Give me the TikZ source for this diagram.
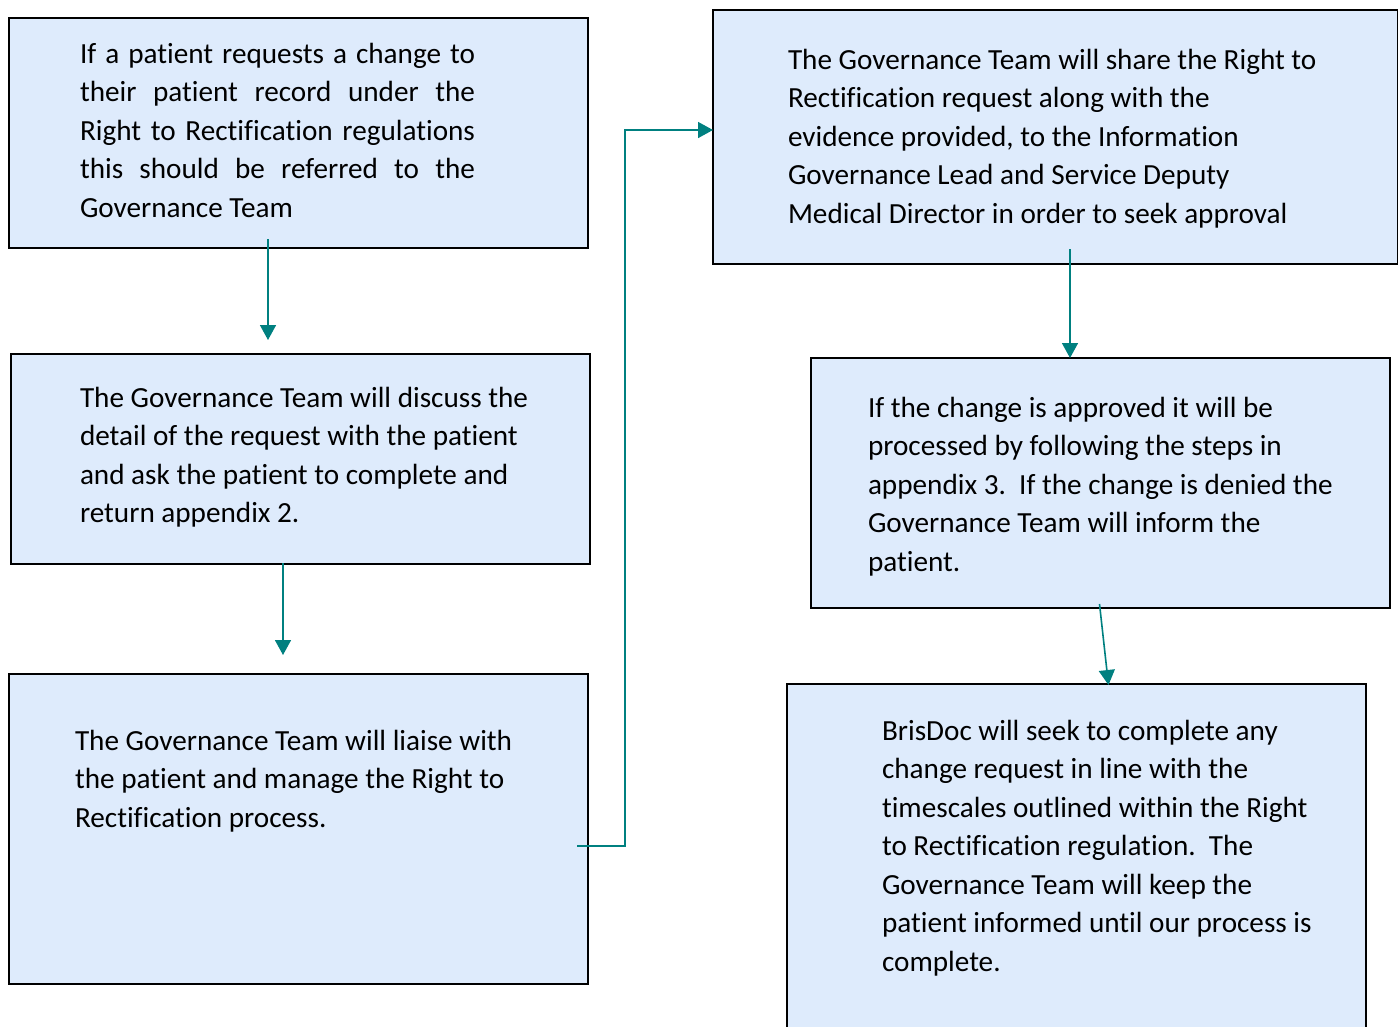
\documentclass[tikz,border=0pt]{standalone}
\usepackage{fontspec}
\setmainfont{Carlito}[Ligatures={NoCommon,NoRare,NoContextual},RawFeature={-liga;-clig;-calt;-dlig}]
\usetikzlibrary{arrows.meta}
\definecolor{boxfill}{RGB}{222,235,252}
\definecolor{flowteal}{RGB}{0,128,128}
\hbadness=10000
\newcommand{\boxfont}{\fontsize{29.2}{38.5}\selectfont}
\begin{document}
\begin{tikzpicture}[x=1pt,y=-1pt,
  stepbox/.style={draw=black,line width=2.2pt,fill=boxfill,anchor=north west,inner sep=0pt},
  boxtext/.style={anchor=base west,inner sep=0pt,outer sep=0pt,font=\boxfont},
  flow/.style={draw=flowteal,line width=1.6pt,-{Triangle[width=16pt,length=15pt]}}]
\useasboundingbox (0,0) rectangle (1398,1026);

% boxes
\node[stepbox,minimum width=579pt,minimum height=230pt] (A) at (8,17) {};
\node[stepbox,minimum width=579pt,minimum height=210pt] (B) at (10,353) {};
\node[stepbox,minimum width=579pt,minimum height=310pt] (C) at (8,673) {};
\node[stepbox,minimum width=685pt,minimum height=254pt] (D) at (712,9) {};
\node[stepbox,minimum width=579pt,minimum height=250pt] (E) at (810,357) {};
\node[stepbox,minimum width=579pt,minimum height=360pt] (F) at (786,683) {};

% texts
\node[boxtext] (At) at (80,63) {\parbox[t]{395pt}{\boxfont
  If a patient requests a change to\linebreak
  their patient record under the\linebreak
  Right to Rectification regulations\linebreak
  this should be referred to the\linebreak
  Governance Team}};
\node[boxtext] (Bt) at (80,407) {\parbox[t]{500pt}{\boxfont\raggedright
  The Governance Team will discuss the\\
  detail of the request with the patient\\
  and ask the patient to complete and\\
  return appendix 2.}};
\node[boxtext] (Ct) at (75,750) {\parbox[t]{500pt}{\boxfont\raggedright
  The Governance Team will liaise with\\
  the patient and manage the Right to\\
  Rectification process.}};
\node[boxtext] (Dt) at (788,69) {\parbox[t]{590pt}{\boxfont\raggedright
  The Governance Team will share the Right to\\
  Rectification request along with the\\
  evidence provided, to the Information\\
  Governance Lead and Service Deputy\\
  Medical Director in order to seek approval}};
\node[boxtext] (Et) at (868,417) {\parbox[t]{500pt}{\boxfont\raggedright
  If the change is approved it will be\\
  processed by following the steps in\\
  appendix 3.~~If the change is denied the\\
  Governance Team will inform the\\
  patient.}};
\node[boxtext] (Ft) at (882,740) {\parbox[t]{480pt}{\boxfont\raggedright
  BrisDoc will seek to complete any\\
  change request in line with the\\
  timescales outlined within the Right\\
  to Rectification regulation.~~The\\
  Governance Team will keep the\\
  patient informed until our process is\\
  complete.}};

% connector end points
\coordinate (a1) at (268,239);
\coordinate (b0) at (268,340);
\coordinate (b1) at (283,563);
\coordinate (c0) at (283,655);
\coordinate (c1) at (577,846);
\coordinate (d0) at (713,130);
\coordinate (d1) at (1070,249);
\coordinate (e0) at (1070,358);
\coordinate (e1) at (1099.5,604);
\coordinate (f0) at (1108.5,685);

% connectors
\draw[flow] (a1) -- (b0);
\draw[flow] (b1) -- (c0);
\draw[flow] (c1) -- (625,846) -- (625,130) -- (d0);
\draw[flow] (d1) -- (e0);
\draw[flow] (e1) -- (f0);
\end{tikzpicture}
\end{document}
